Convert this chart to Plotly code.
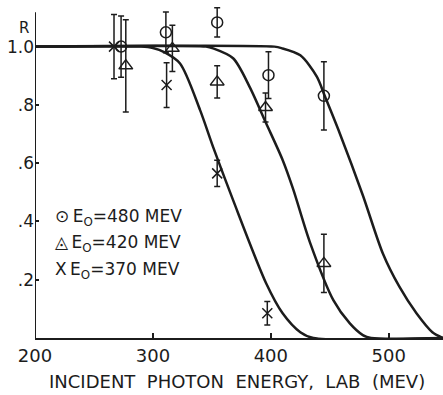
import plotly.graph_objects as go

# Data points
x480 = [273, 311, 354.5, 398, 445]
y480 = [1.0, 1.049, 1.083, 0.902, 0.831]
e480 = [0.105, 0.07, 0.05, 0.08, 0.117]

x420 = [277, 316.5, 354.5, 395.5, 445]
y420 = [0.934, 0.994, 0.879, 0.791, 0.256]
e420 = [0.158, 0.079, 0.055, 0.05, 0.1]

x370 = [267, 311.6, 354.5, 397]
y370 = [1.0, 0.868, 0.565, 0.085]
e370 = [0.11, 0.077, 0.045, 0.04]

# Theoretical curves
c370_x = [200, 290, 300, 310, 323, 340, 351, 368, 396, 410, 425, 436, 546]
c370_y = [1, 1, 0.995, 0.98, 0.942, 0.782, 0.656, 0.473, 0.188, 0.085, 0.02, 0, 0]
c420_x = [200, 345, 351, 368, 382, 396, 410, 419, 433, 453, 467, 478, 485, 546]
c420_y = [1, 1, 0.994, 0.96, 0.862, 0.737, 0.611, 0.51, 0.33, 0.13, 0.05, 0.01, 0, 0]
c480_x = [200, 403, 409, 425, 439, 446, 458.5, 478, 495, 509, 523.5, 537, 546]
c480_y = [1, 1, 0.995, 0.97, 0.897, 0.828, 0.702, 0.49, 0.29, 0.176, 0.085, 0.02, 0]

x_ticks = [200, 300, 400, 500]
y_ticks = [0.2, 0.4, 0.6, 0.8, 1.0]
y_ticktext = [".2", ".4", ".6", ".8", "1.0"]

INK = "#1c1c1c"
FONT = "DejaVu Sans"

fig = go.Figure()
for cx, cy in [(c370_x, c370_y), (c420_x, c420_y), (c480_x, c480_y)]:
    fig.add_trace(go.Scatter(x=cx, y=cy, mode="lines",
                             line=dict(color=INK, width=2.5, shape="spline", smoothing=0.8),
                             showlegend=False, hoverinfo="skip"))

def pts(x, y, e, sym, size):
    fig.add_trace(go.Scatter(
        x=x, y=y, mode="markers",
        marker=dict(symbol=sym, size=size, color=INK, line=dict(color=INK, width=1.5)),
        error_y=dict(type="data", array=e, visible=True, color=INK, thickness=1.5, width=3),
        showlegend=False, cliponaxis=False))

pts(x480, y480, e480, "circle-open", 11)
pts(x420, y420, e420, "triangle-up-open", 12)
pts(x370, y370, e370, "x-thin-open", 10)

# y-axis line (shape so that error bars can exceed it)
fig.add_shape(type="line", xref="x", yref="y", x0=200, x1=200, y0=0, y1=1.118,
              line=dict(color=INK, width=2))

ann = []
ann.append(dict(x=-0.043, y=1.065, xref="paper", yref="y", text="R", showarrow=False,
                font=dict(family=FONT, size=15, color=INK)))
leg = [("⊙", "480", 0.415), ("◬", "420", 0.326), ("X", "370", 0.23)]
for sym, val, yy in leg:
    ann.append(dict(x=0.044, y=yy, xref="paper", yref="y", xanchor="left",
                    text=f"{sym}\u2009E<sub>O</sub>={val} MEV", showarrow=False,
                    font=dict(family=FONT, size=17, color=INK)))
ann.append(dict(x=0.494, y=-0.13, xref="paper", yref="paper", yanchor="middle",
                text="INCIDENT  PHOTON  ENERGY,  LAB  (MEV)", showarrow=False,
                font=dict(family=FONT, size=18, color=INK)))

fig.update_layout(
    width=443, height=395,
    margin=dict(l=35, r=0, t=0, b=57),
    paper_bgcolor="white", plot_bgcolor="white",
    annotations=ann,
    xaxis=dict(range=[200, 546], tickvals=x_ticks, showgrid=False, zeroline=False,
               showline=True, linecolor=INK, linewidth=2, ticks="inside", ticklen=5,
               tickcolor=INK, tickwidth=1.5, automargin=False,
               tickfont=dict(family=FONT, size=18, color=INK)),
    yaxis=dict(range=[0, 1.16], tickvals=y_ticks, ticktext=y_ticktext, showgrid=False,
               zeroline=False, showline=False, ticks="inside", ticklen=4,
               tickcolor=INK, tickwidth=1.5, automargin=False,
               tickfont=dict(family=FONT, size=17, color=INK)),
)

fig.write_html("out.html")
